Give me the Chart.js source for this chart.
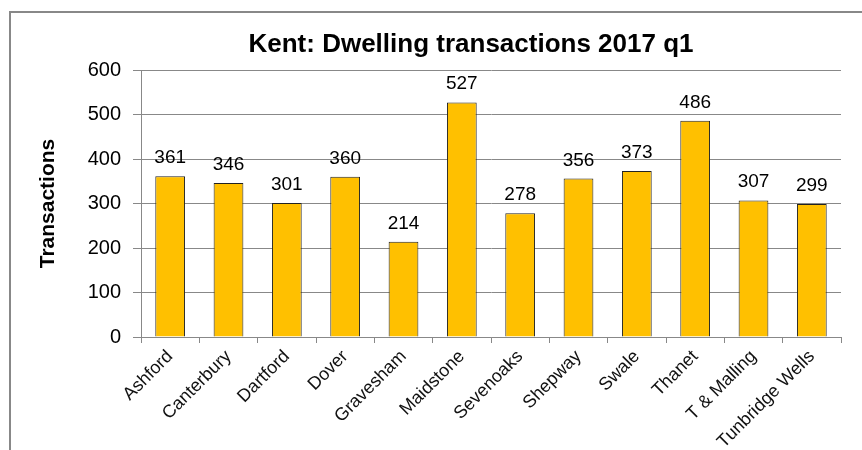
<!DOCTYPE html>
<html>
<head>
<meta charset="utf-8">
<script src="https://cdn.jsdelivr.net/npm/chart.js@4"></script>
<style>
  body { margin: 0; background: #fff; }
  #wrap { position: relative; width: 862px; height: 450px; overflow: hidden; }
  #frame { position: absolute; left: 9px; top: 11px; width: 900px; height: 500px; border: 2px solid #888; }
  canvas { position: absolute; left: 0; top: 0; }
</style>
</head>
<body>
<div id="wrap">
  <div id="frame"></div>
  <canvas id="chart" width="862" height="450"></canvas>
</div>
<script>
// Kent dwelling transactions, 2017 q1
const districts = ['Ashford', 'Canterbury', 'Dartford', 'Dover', 'Gravesham', 'Maidstone',
  'Sevenoaks', 'Shepway', 'Swale', 'Thanet', 'T & Malling', 'Tunbridge Wells'];
const transactions = [361, 346, 301, 360, 214, 527, 278, 356, 373, 486, 307, 299];
const titleText = 'Kent: Dwelling transactions 2017 q1';

// value labels over each bar + the chart title
const labelsPlugin = {
    id: 'barLabels',
    afterDraw(chart) {
        const ctx = chart.ctx;
        const meta = chart.getDatasetMeta(0);
        ctx.save();
        ctx.fillStyle = '#000';
        ctx.font = '19px "Liberation Sans", Arial, sans-serif';
        ctx.textAlign = 'center';
        ctx.textBaseline = 'alphabetic';
        meta.data.forEach((bar, i) => {
            ctx.fillText(transactions[i], bar.x, bar.y - 13);
        });
        ctx.font = 'bold 26px "Liberation Sans", Arial, sans-serif';
        const area = chart.chartArea;
        ctx.fillText(titleText, (area.left + area.right) / 2 - 20, 52);
        ctx.restore();
    }
};

new Chart(document.getElementById('chart').getContext('2d'), {
    type: 'bar',
    data: {
        labels: districts,
        datasets: [{
            data: transactions,
            backgroundColor: '#FFC000',
            borderColor: '#222',
            borderWidth: 1,
            categoryPercentage: 1,
            barPercentage: 0.51
        }]
    },
    options: {
        responsive: false,
        animation: false,
        layout: { padding: { top: 70, right: 21, left: 0, bottom: 0 } },
        plugins: {
            legend: { display: false },
            tooltip: { enabled: false },
            title: { display: false }
        },
        scales: {
            x: {
                offset: true,
                grid: { offset: true, drawOnChartArea: false, drawTicks: true, tickLength: 6, color: '#888' },
                border: { color: '#888', width: 1 },
                ticks: {
                    minRotation: 45, maxRotation: 45, autoSkip: false,
                    color: '#111', padding: 3,
                    font: { family: '"Liberation Sans", Arial, sans-serif', size: 18 }
                },
                afterFit(scale) { scale.height = 113; }
            },
            y: {
                min: 0, max: 600,
                ticks: {
                    stepSize: 100, color: '#000', padding: 12,
                    font: { family: '"Liberation Sans", Arial, sans-serif', size: 20 }
                },
                grid: { color: '#888', tickLength: 8 },
                border: { color: '#888', width: 1 },
                title: {
                    display: true, text: 'Transactions', color: '#000',
                    padding: { top: 36, bottom: 0 },
                    font: { family: '"Liberation Sans", Arial, sans-serif', size: 21, weight: 'bold' }
                },
                afterFit(scale) { scale.width = 141; }
            }
        }
    },
    plugins: [labelsPlugin]
});
</script>
</body>
</html>
